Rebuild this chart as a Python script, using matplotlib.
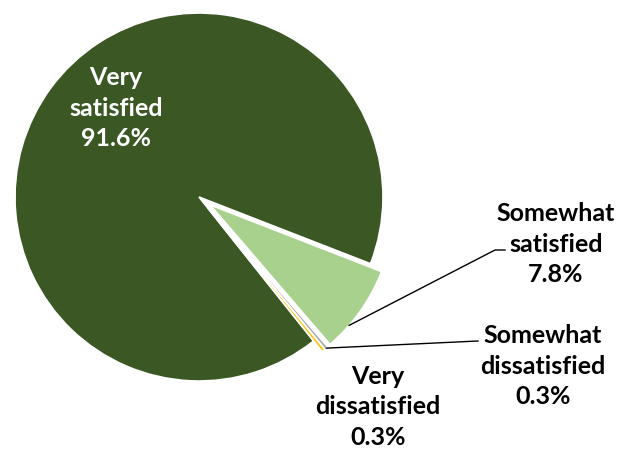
import numpy as np
import matplotlib
matplotlib.use("Agg")
import matplotlib.pyplot as plt

categories = ["Very\nsatisfied", "Somewhat\nsatisfied", "Somewhat\ndissatisfied", "Very\ndissatisfied"]
values = [91.6, 7.8, 0.3, 0.3]
colors = ["#3A5724", "#A9D18E", "#A5A5A5", "#FFC000"]

W, H = 617, 451
CX, CY, R = 199, 197, 184

def px(x, y):
    return ((x - CX) / R, (CY - y) / R)

fig = plt.figure(figsize=(W / 100, H / 100), dpi=100)
ax = fig.add_axes([0, 0, 1, 1])

explode = [0, 0.074, 0.074, 0.074]
wedges, _ = ax.pie(values, colors=colors, startangle=-51.5, counterclock=False,
                   explode=explode, radius=1, center=(0, 0),
                   wedgeprops=dict(edgecolor="white", linewidth=1.2),
                   normalize=True)
ax.set_xlim(-CX / R, (W - CX) / R)
ax.set_ylim(-(H - CY) / R, CY / R)
ax.set_aspect("auto")
ax.axis("off")

font = dict(family=["Lato", "DejaVu Sans"], fontweight="bold", fontsize=18,
            ha="center", va="center", linespacing=1.4)
text_colors = ["white", "black", "black", "black"]

label_pos = [(116, 108), (556, 244), (543, 366), (378, 407)]
for cat, v, (lx, ly), tc in zip(categories, values, label_pos, text_colors):
    x, y = px(lx, ly)
    ax.text(x, y, f"{cat}\n{v:.1f}%", color=tc, **font)

def arc_point(w, frac):
    t = np.deg2rad(w.theta1 + (w.theta2 - w.theta1) * frac)
    cx, cy = w.center
    return cx + w.r * np.cos(t), cy + w.r * np.sin(t)

# leader: Somewhat satisfied
s = arc_point(wedges[1], 0.3)
k1 = px(495, 250)
k2 = px(505, 250)
ax.plot([s[0], k1[0], k2[0]], [s[1], k1[1], k2[1]], color="black", lw=1)

# leader: Somewhat dissatisfied
s = arc_point(wedges[2], 0.5)
k1 = px(478, 341)
ax.plot([s[0], k1[0]], [s[1], k1[1]], color="black", lw=1)

fig.savefig("out.png", dpi=100, facecolor="white")
